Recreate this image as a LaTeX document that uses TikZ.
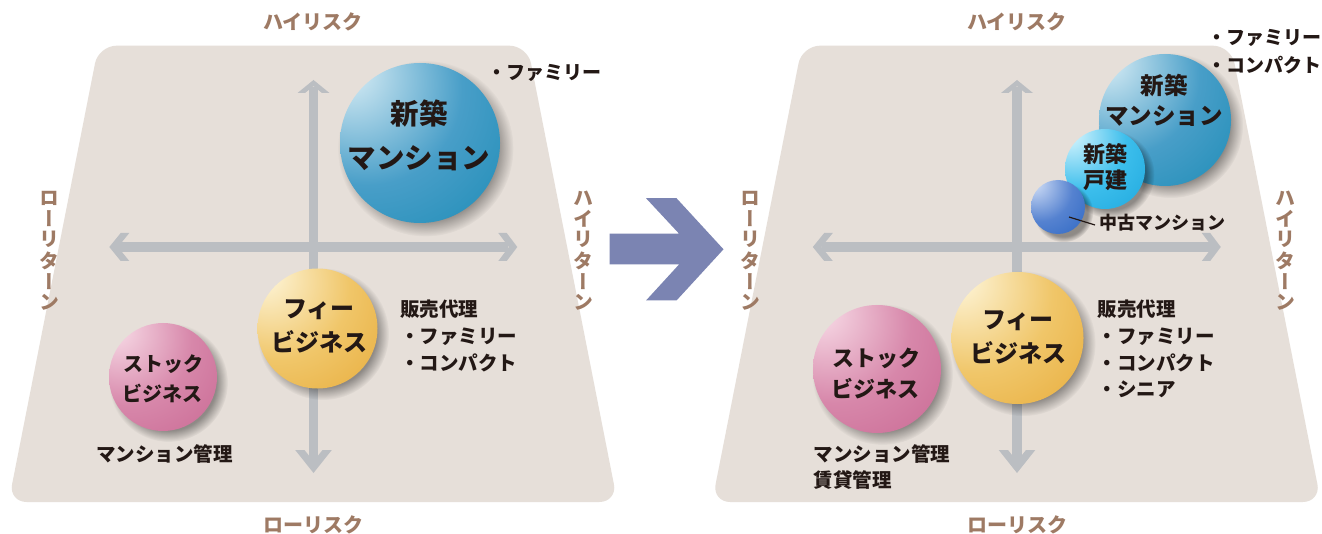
\documentclass[tikz,border=0pt]{standalone}
\usepackage{fontspec}
\usepackage{graphicx}
\setmainfont{Noto Sans CJK JP}
\newfontfamily\jpv{Noto Sans CJK JP}[RawFeature=+vert]
\usetikzlibrary{shadows,fadings}

\definecolor{trapc}{RGB}{230,223,217}
\definecolor{axisc}{RGB}{187,190,194}
\definecolor{labc}{RGB}{158,122,100}
\definecolor{darkt}{RGB}{35,24,21}
\definecolor{arrc}{RGB}{123,132,178}

\definecolor{bluL}{RGB}{200,228,240}
\definecolor{bluB}{RGB}{72,158,200}
\definecolor{bluD}{RGB}{0,128,170}
\definecolor{yelL}{RGB}{252,240,205}
\definecolor{yelB}{RGB}{240,198,105}
\definecolor{yelD}{RGB}{226,155,30}
\definecolor{pnkL}{RGB}{244,210,224}
\definecolor{pnkB}{RGB}{215,135,170}
\definecolor{pnkD}{RGB}{192,85,132}
\definecolor{cyaL}{RGB}{200,240,252}
\definecolor{cyaB}{RGB}{60,190,236}
\definecolor{cyaD}{RGB}{10,152,210}
\definecolor{royL}{RGB}{195,212,242}
\definecolor{royB}{RGB}{85,130,208}
\definecolor{royD}{RGB}{18,85,185}

\pgfdeclareradialshading{shBlue}{\pgfpoint{-24bp}{24bp}}{color(0bp)=(white); color(5bp)=(bluL); color(30bp)=(bluB); color(70bp)=(bluD); color(100bp)=(bluD)}
\pgfdeclareradialshading{shYel}{\pgfpoint{-24bp}{24bp}}{color(0bp)=(white); color(5bp)=(yelL); color(30bp)=(yelB); color(70bp)=(yelD); color(100bp)=(yelD)}
\pgfdeclareradialshading{shPink}{\pgfpoint{-24bp}{24bp}}{color(0bp)=(white); color(5bp)=(pnkL); color(30bp)=(pnkB); color(70bp)=(pnkD); color(100bp)=(pnkD)}
\pgfdeclareradialshading{shCyan}{\pgfpoint{-24bp}{24bp}}{color(0bp)=(white); color(5bp)=(cyaL); color(30bp)=(cyaB); color(70bp)=(cyaD); color(100bp)=(cyaD)}
\pgfdeclareradialshading{shRoyal}{\pgfpoint{-24bp}{24bp}}{color(0bp)=(white); color(5bp)=(royL); color(30bp)=(royB); color(70bp)=(royD); color(100bp)=(royD)}

\tikzset{
  axisline/.style={draw=axisc, line width=9.3pt},
  axlbl/.style={text=labc, font=\bfseries\fontsize{20}{20}\selectfont, inner sep=0pt},
  vlbl/.style={text=labc, font=\jpv\bfseries\fontsize{20}{20}\selectfont, inner sep=0pt},
  body/.style={text=darkt, font=\bfseries\fontsize{19.5}{20}\selectfont, inner sep=0pt, anchor=west},
  ballt/.style={text=darkt, inner sep=0pt},
  ball/.style={circle, inner sep=0pt, draw=none, shade,
    general shadow={fill=black, fill opacity=0.38, path fading=circle with fuzzy edge 20 percent,
      shadow xshift=5pt, shadow yshift=-5pt, shadow scale=1.1}},
  uphead/.pic={\fill[axisc] (0,0) -- (-16,13) -- (-8.5,13) -- (0,6.1) -- (8.5,13) -- (16,13) -- cycle;},
  downhead/.pic={\fill[axisc] (0,0) -- (-18.3,-23) -- (-9,-23) -- (0,-11.7) -- (9,-23) -- (18.3,-23) -- cycle;},
  lefthead/.pic={\fill[axisc] (0,0) -- (11.4,-14) -- (20,-14) -- (8.6,0) -- (20,14) -- (11.4,14) -- cycle;},
  righthead/.pic={\fill[axisc] (0,0) -- (-10.6,-14) -- (-19,-14) -- (-8.4,0) -- (-19,14) -- (-10.6,14) -- cycle;},
}

\begin{document}
\begin{tikzpicture}[x=1pt,y=-1pt]
\useasboundingbox (0,0) rectangle (1322,534);
\fill[white] (0,0) rectangle (1322,534);

% ---------- panels ----------
\fill[trapc, rounded corners=18pt] (313,45.7) -- (527.5,45.7) -- (617.4,502) -- (8.6,502) -- (98.5,45.7) -- cycle;
\fill[trapc, rounded corners=18pt] (1016.5,45.7) -- (1231,45.7) -- (1320.9,502) -- (712.1,502) -- (802,45.7) -- cycle;

% ---------- axes, left ----------
\coordinate (T1) at (313.5,80);
\coordinate (B1) at (313.5,473);
\coordinate (L1) at (109.3,247);
\coordinate (R1) at (517.3,247);
\draw[axisline, shorten <=7pt, shorten >=12pt] (T1) -- (B1);
\draw[axisline, shorten <=9pt, shorten >=9pt] (L1) -- (R1);
\pic at (T1) {uphead};
\pic at (B1) {downhead};
\pic at (L1) {lefthead};
\pic at (R1) {righthead};

% ---------- axes, right ----------
\coordinate (T2) at (1017,80);
\coordinate (B2) at (1017,473);
\coordinate (L2) at (812.8,247);
\coordinate (R2) at (1220.8,247);
\draw[axisline, shorten <=7pt, shorten >=12pt] (T2) -- (B2);
\draw[axisline, shorten <=9pt, shorten >=9pt] (L2) -- (R2);
\pic at (T2) {uphead};
\pic at (B2) {downhead};
\pic at (L2) {lefthead};
\pic at (R2) {righthead};

% ---------- middle arrow ----------
\fill[arrc] (609.7,233.6) -- (679,233.6) -- (646,198.2) -- (676.5,198.2) -- (723.5,249.3)
  -- (676.5,300.5) -- (646,300.5) -- (679,264.5) -- (609.7,264.5) -- cycle;

% ---------- axis labels ----------
\node[axlbl] (hrL) at (313,21.7) {ハイリスク};
\node[axlbl] (lrL) at (313,524.5) {ローリスク};
\node[axlbl] (hrR) at (1017,21.7) {ハイリスク};
\node[axlbl] (lrR) at (1017,524.5) {ローリスク};
\foreach \ch [count=\i] in {ロ,ー,リ,タ,ー,ン}{
  \node[vlbl] (lrtA\i) at (49,{198+20.8*(\i-1)}) {\ch};
  \node[vlbl] (lrtB\i) at (750.5,{198+20.8*(\i-1)}) {\ch};
}
\foreach \ch [count=\i] in {ハ,イ,リ,タ,ー,ン}{
  \node[vlbl] (hrtA\i) at (583,{198+20.8*(\i-1)}) {\ch};
  \node[vlbl] (hrtB\i) at (1285,{198+20.8*(\i-1)}) {\ch};
}

% ---------- left balls ----------
\node[ball, shading=shBlue, minimum size=160pt] (nsmL) at (420,143) {};
\node[ball, shading=shYel, minimum size=120pt] (feeL) at (317.5,328.5) {};
\node[ball, shading=shPink, minimum size=108pt] (stkL) at (163,377) {};

\node[ballt, font=\bfseries\fontsize{28.5}{30}\selectfont] (nsmL1) at (419,114) {新築};
\node[ballt, font=\bfseries\fontsize{28.5}{30}\selectfont] (nsmL2) at (419,158) {マンション};
\node[ballt, font=\bfseries\fontsize{24}{26}\selectfont] (feeL1) at (319,310) {フィー};
\node[ballt, font=\bfseries\fontsize{24}{26}\selectfont] (feeL2) at (319,342) {ビジネス};
\node[ballt, font=\bfseries\fontsize{20}{22}\selectfont] (stkL1) at (163,364.5) {ストック};
\node[ballt, font=\bfseries\fontsize{20}{22}\selectfont] (stkL2) at (162,393.5) {ビジネス};

\node[body, font=\bfseries\fontsize{19}{20}\selectfont] (famL0) at (487,73) {・ファミリー};
\node[body] (hbL) at (400,309) {販売代理};
\node[body] (famL) at (400,337) {・ファミリー};
\node[body] (cmpL) at (400,362.6) {・コンパクト};
\node[body] (mgL) at (96,453.8) {マンション管理};

% ---------- right balls ----------
\node[ball, shading=shBlue, minimum size=132pt] (nsmR) at (1165,120) {};
\node[ball, shading=shCyan, minimum size=80pt] (kdtR) at (1105,169) {};
\node[ball, shading=shRoyal, minimum size=54pt] (chkR) at (1058,207) {};
\node[ball, shading=shYel, minimum size=132pt] (feeR) at (1017.5,338) {};
\node[ball, shading=shPink, minimum size=128pt] (stkR) at (877,369) {};

\node[ballt, font=\bfseries\fontsize{23.5}{25}\selectfont] (nsmR1) at (1164,85) {新築};
\node[ballt, font=\bfseries\fontsize{23.5}{25}\selectfont] (nsmR2) at (1164,116) {マンション};
\node[ballt, font=\bfseries\fontsize{22}{24}\selectfont] (kdtR1) at (1105,154) {新築};
\node[ballt, font=\bfseries\fontsize{22}{24}\selectfont] (kdtR2) at (1105,180) {戸建};
\node[ballt, font=\bfseries\fontsize{24}{26}\selectfont] (feeR1) at (1018,321) {フィー};
\node[ballt, font=\bfseries\fontsize{24}{26}\selectfont] (feeR2) at (1018.5,352.5) {ビジネス};
\node[ballt, font=\bfseries\fontsize{22}{24}\selectfont] (stkR1) at (876.5,358.5) {ストック};
\node[ballt, font=\bfseries\fontsize{22}{24}\selectfont] (stkR2) at (875,389) {ビジネス};

\node[body, font=\bfseries\fontsize{19}{20}\selectfont] (famR0) at (1206.9,38.3) {・ファミリー};
\node[body, font=\bfseries\fontsize{19}{20}\selectfont] (cmpR0) at (1206.9,65.5) {・コンパクト};
\node[body, font=\bfseries\fontsize{18}{20}\selectfont] (chkLbl) at (1099,222.5) {中古マンション};
\coordinate (leadS) at (1069,217);
\draw[darkt, line width=1.2pt] (leadS) -- ([shift={(-4,2.5)}]chkLbl.west);

\node[body] (hbR) at (1097.7,309) {販売代理};
\node[body] (famR) at (1097.7,336.5) {・ファミリー};
\node[body] (cmpR) at (1097.7,362.6) {・コンパクト};
\node[body] (snR) at (1097.7,389) {・シニア};
\node[body] (mgR) at (813.5,453.8) {マンション管理};
\node[body] (chR) at (813.5,480) {賃貸管理};
\end{tikzpicture}
\end{document}
